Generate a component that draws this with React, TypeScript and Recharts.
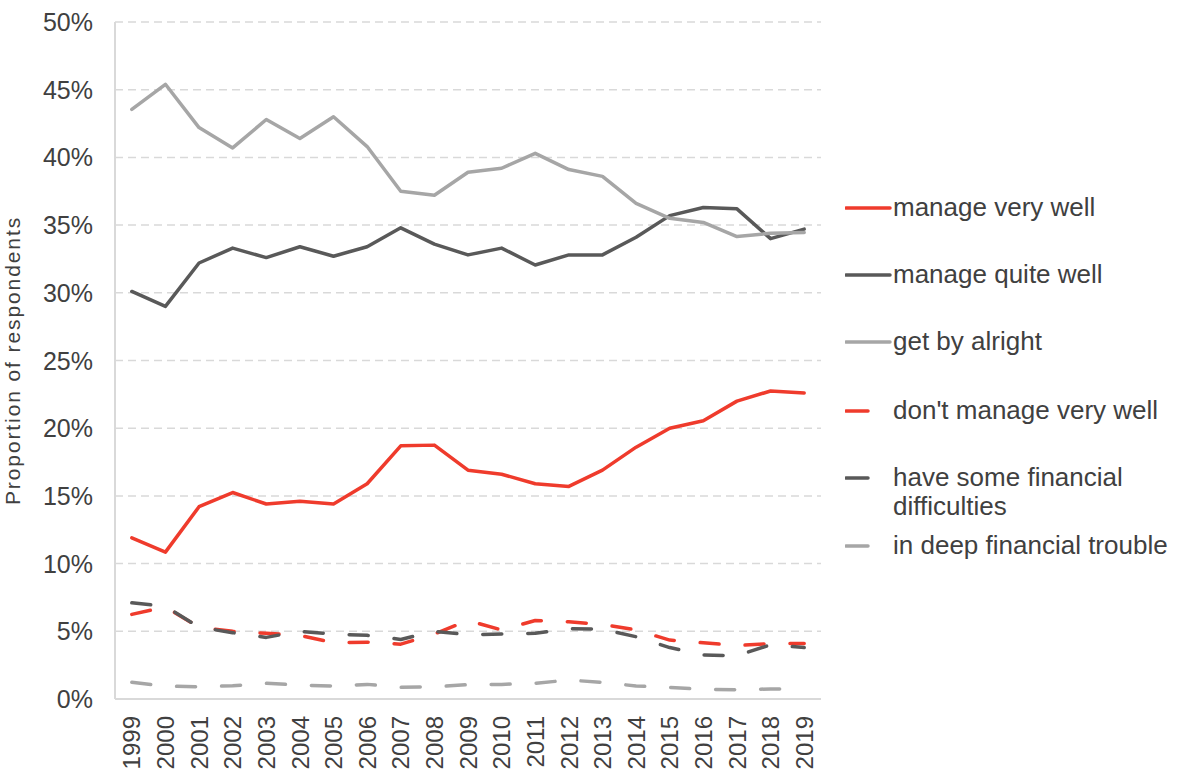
import React from "react";
import { LineChart, Line, XAxis, YAxis, CartesianGrid } from "recharts";

const years = [
  "1999", "2000", "2001", "2002", "2003", "2004", "2005", "2006", "2007", "2008",
  "2009", "2010", "2011", "2012", "2013", "2014", "2015", "2016", "2017", "2018", "2019",
];

const manageVeryWell = [11.9, 10.85, 14.2, 15.25, 14.4, 14.6, 14.4, 15.9, 18.7, 18.75, 16.9, 16.6, 15.9, 15.7, 16.9, 18.6, 20.0, 20.55, 22.0, 22.75, 22.6];
const manageQuiteWell = [30.1, 29.0, 32.2, 33.3, 32.6, 33.4, 32.7, 33.4, 34.8, 33.6, 32.8, 33.3, 32.05, 32.8, 32.8, 34.1, 35.7, 36.3, 36.2, 34.0, 34.7];
const getByAlright = [43.55, 45.4, 42.2, 40.7, 42.8, 41.4, 43.0, 40.8, 37.5, 37.2, 38.9, 39.2, 40.3, 39.1, 38.6, 36.6, 35.5, 35.2, 34.15, 34.4, 34.45];
const dontManageVeryWell = [6.25, 6.8, 5.3, 5.0, 4.85, 4.7, 4.15, 4.2, 4.05, 4.8, 5.8, 5.1, 5.8, 5.7, 5.5, 5.1, 4.35, 4.15, 3.95, 4.1, 4.1];
const someDifficulties = [7.1, 6.85, 5.3, 4.9, 4.55, 5.0, 4.8, 4.7, 4.4, 5.0, 4.75, 4.8, 4.85, 5.2, 5.15, 4.6, 3.8, 3.25, 3.2, 4.0, 3.8];
const deepTrouble = [1.23, 0.95, 0.9, 0.98, 1.16, 1.03, 0.96, 1.08, 0.86, 0.9, 1.06, 1.08, 1.16, 1.4, 1.23, 0.96, 0.86, 0.71, 0.69, 0.74, 0.74];

const yTicks = [0, 5, 10, 15, 20, 25, 30, 35, 40, 45, 50];

const RED = "#EF3B2C";
const DARK = "#595959";
const LIGHT = "#A6A6A6";
const TEXT = "#404040";
const FONT = "'Liberation Sans', Arial, sans-serif";

const series = [
  { key: "mvw", name: "manage very well", values: manageVeryWell, color: RED, dashed: false },
  { key: "mqw", name: "manage quite well", values: manageQuiteWell, color: DARK, dashed: false },
  { key: "gba", name: "get by alright", values: getByAlright, color: LIGHT, dashed: false },
  { key: "dmvw", name: "don't manage very well", values: dontManageVeryWell, color: RED, dashed: true },
  { key: "sfd", name: "have some financial difficulties", values: someDifficulties, color: DARK, dashed: true },
  { key: "dft", name: "in deep financial trouble", values: deepTrouble, color: LIGHT, dashed: true },
];

const data = years.map((year, i) => {
  const row: Record<string, string | number> = { year };
  series.forEach((s) => {
    row[s.key] = s.values[i];
  });
  return row;
});

// legend rows (first-line centre)
const legendTops = [208, 275, 342, 411, 478, 546];

function YearTick({ x, payload }: any) {
  return (
    <text
      transform={`translate(${x},716) rotate(-90)`}
      textAnchor="end"
      dy="0.36em"
      fontSize={24}
      fill={TEXT}
      fontFamily={FONT}
    >
      {payload.value}
    </text>
  );
}

function PctTick({ x, y, payload }: any) {
  return (
    <text x={x} y={y} textAnchor="end" dy="0.36em" fontSize={25} fill={TEXT} fontFamily={FONT}>
      {`${payload.value}%`}
    </text>
  );
}

function YLabel({ viewBox }: any) {
  const cy = viewBox.y + viewBox.height / 2;
  return (
    <text
      transform={`translate(20,${cy}) rotate(-90)`}
      textAnchor="middle"
      fontSize={21}
      letterSpacing={1.9}
      fill={TEXT}
      fontFamily={FONT}
    >
      Proportion of respondents
    </text>
  );
}

export default function App() {
  return (
    <div style={{ position: "absolute", left: 0, top: 0, width: 1179, height: 774, background: "#fff", fontFamily: FONT }}>
      <LineChart width={1179} height={774} data={data} margin={{ top: 22, right: 358, bottom: 0, left: 0 }}>
        <CartesianGrid vertical={false} stroke="#D9D9D9" strokeWidth={1.5} strokeDasharray="8 5" />
        <XAxis
          dataKey="year"
          height={75}
          interval={0}
          padding={{ left: 16.8, right: 16.8 }}
          tickLine={false}
          axisLine={{ stroke: "#D9D9D9", strokeWidth: 2 }}
          tick={<YearTick />}
        />
        <YAxis
          width={115}
          domain={[0, 50]}
          ticks={yTicks}
          interval={0}
          tickLine={false}
          tickSize={0}
          tickMargin={22}
          axisLine={{ stroke: "#D9D9D9", strokeWidth: 2 }}
          tick={<PctTick />}
          label={<YLabel />}
        />
        {series.map((s) => (
          <Line
            key={s.key}
            dataKey={s.key}
            name={s.name}
            stroke={s.color}
            strokeWidth={3.5}
            strokeDasharray={s.dashed ? "19 26" : undefined}
            strokeLinecap="round"
            strokeLinejoin="round"
            dot={false}
            activeDot={false}
            isAnimationActive={false}
          />
        ))}
      </LineChart>

      {series.map((s, i) => (
        <div
          key={s.key}
          style={{
            position: "absolute",
            left: 845,
            top: legendTops[i] - 15,
            display: "flex",
            alignItems: "flex-start",
          }}
        >
          <svg width={48} height={30} style={{ flex: "none" }}>
            <line
              x1={1}
              x2={s.dashed ? 23 : 45}
              y1={15}
              y2={15}
              stroke={s.color}
              strokeWidth={3.5}
              strokeLinecap="round"
            />
          </svg>
          <div style={{ width: 290, fontSize: 26, lineHeight: "29px", color: TEXT, marginTop: 0 }}>{s.name}</div>
        </div>
      ))}
    </div>
  );
}
